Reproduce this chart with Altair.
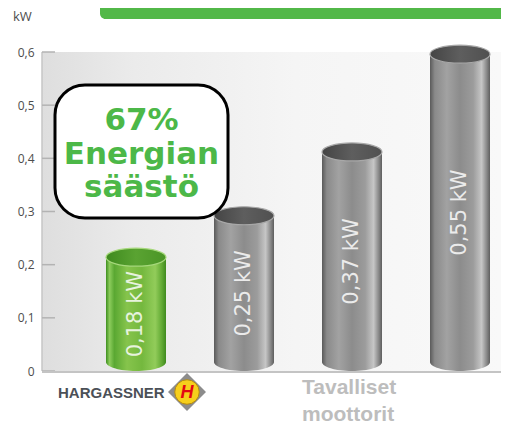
import altair as alt
import pandas as pd

# ---- data ----
categories = ["Hargassner", "Tavallinen A", "Tavallinen B", "Tavallinen C"]
kinds = ["green", "gray", "gray", "gray"]
heights = [0.214, 0.292, 0.412, 0.596]          # drawn cylinder heights (kW axis)
labels = ["0,18 kW", "0,25 kW", "0,37 kW", "0,55 kW"]
y_ticks = [0, 0.1, 0.2, 0.3, 0.4, 0.5, 0.6]
box_lines = ["67%", "Energian", "säästö"]
brand = ["HARGASSNER"]
other_lines = ["Tavalliset", "moottorit"]
unit = ["kW"]

df = pd.DataFrame({"cat": categories, "kind": kinds, "h": heights, "label": labels})

W, H = 459, 319
y_scale = alt.Scale(domain=[0, 0.6], nice=False, zero=True)
Y_AX = alt.Axis(values=y_ticks, domain=False, ticks=False, grid=False,
                labelPadding=8, labelFontSize=12, labelColor="#4d4d4d",
                labelFont="Open Sans",
                labelExpr="replace(format(datum.value, '.1~f'), '.', ',')")
x_enc = alt.X("cat:N", sort=categories,
              scale=alt.Scale(type="band", range=[40, 472], paddingInner=0, paddingOuter=0),
              axis=None)


def yq(field):
    return alt.Y(field, scale=y_scale, axis=Y_AX, title=None)


def lin(stops, x2=1, y2=0):
    return alt.LinearGradient(
        gradient="linear",
        stops=[alt.GradientStop(offset=o, color=c) for o, c in stops],
        x1=0, y1=0, x2=x2, y2=y2,
    )


green_body = lin([(0, "#3f8f1f"), (0.06, "#8ccc5c"), (0.14, "#5aa832"), (0.35, "#86c44c"),
                  (0.6, "#74b83e"), (0.82, "#92cc5a"), (0.93, "#62aa34"), (1, "#3f8a1e")])
gray_body = lin([(0, "#5a5a5a"), (0.08, "#8a8a8a"), (0.28, "#a2a2a2"), (0.5, "#8c8c8c"),
                 (0.72, "#9c9c9c"), (0.86, "#c6c6c6"), (0.95, "#858585"), (1, "#5e5e5e")])
green_top = lin([(0, "#3e8a1e"), (0.5, "#5aa332"), (1, "#4a9526")])
gray_top = lin([(0, "#444444"), (0.5, "#5e5e5e"), (1, "#505050")])
panel_grad = lin([(0, "#dedede"), (0.2, "#ebebeb"), (0.55, "#f5f5f5"), (1, "#f9f9f9")])

ELL = "M -1 0 A 1 0.3 0 1 0 1 0 A 1 0.3 0 1 0 -1 0 Z"
BW = 60

panel = alt.Chart(pd.DataFrame({"lo": [0], "hi": [0.6]})).mark_rect(fill=panel_grad).encode(
    x=alt.value(0), x2=alt.value(W), y=yq("hi:Q"), y2="lo:Q")

wall = alt.Chart(pd.DataFrame({"lo": [0], "hi": [0.6]})).mark_rule(
    color="#c6c6c6", strokeWidth=1.5).encode(x=alt.value(0), y=yq("hi:Q"), y2="lo:Q")

ticks = alt.Chart(pd.DataFrame({"t": y_ticks})).mark_rule(color="#b3b3b3", strokeWidth=1.5).encode(
    y=yq("t:Q"), x=alt.value(0), x2=alt.value(13))

floor = alt.Chart(pd.DataFrame({"z": [0]})).mark_rule(color="#c4c4c4", strokeWidth=2, yOffset=1).encode(
    y=yq("z:Q"), x=alt.value(0), x2=alt.value(W))

base = alt.Chart(df)


def cyl(kind, body, top, rim):
    b = base.transform_filter(alt.datum.kind == kind)
    bar = b.mark_bar(size=BW, fill=body, y2Offset=-9).encode(
        x=x_enc, y=yq("h:Q"), y2=alt.datum(0))
    bottom = b.mark_point(shape=ELL, size=BW * BW, filled=True, fill=body, strokeWidth=0,
                          opacity=1, yOffset=-9).encode(x=x_enc, y=alt.datum(0))
    topm = b.mark_point(shape=ELL, size=BW * BW, filled=True, fill=top, stroke=rim,
                        strokeWidth=1.2, opacity=1).encode(x=x_enc, y=yq("h:Q"))
    return [bottom, bar, topm]


layers = [panel, wall, ticks, floor]
layers += cyl("green", green_body, green_top, "#a6d87c")
layers += cyl("gray", gray_body, gray_top, "#a8a8a8")

value_text = base.transform_calculate(mid="datum.h / 2").mark_text(
    angle=270, font="DejaVu Sans", fontSize=21, color="white", opacity=0.82,
    align="center", baseline="middle").encode(
    x=x_enc, y=yq("mid:Q"), text="label:N")
layers.append(value_text)

one = pd.DataFrame({"a": [0]})
box = alt.Chart(one).mark_rect(fill="white", stroke="black", strokeWidth=3, cornerRadius=30).encode(
    x=alt.value(13), x2=alt.value(186), y=alt.value(33), y2=alt.value(166))
box_text = alt.Chart(one).mark_text(
    text=box_lines, font="DejaVu Sans", fontWeight="bold", fontSize=31, color="#4cb848",
    align="center", baseline="alphabetic", lineHeight=33.5).encode(
    x=alt.value(99.5), y=alt.value(78))
banner = alt.Chart(one).mark_rect(color="#52b848", cornerRadiusBottomLeft=9).encode(
    x=alt.value(58), x2=alt.value(W), y=alt.value(-44), y2=alt.value(-33))
kw = alt.Chart(one).mark_text(text=unit[0], font="Open Sans", fontSize=13, color="#4d4d4d",
                              align="left", baseline="middle").encode(
    x=alt.value(-29), y=alt.value(-35))
logo_text = alt.Chart(one).mark_text(
    text=brand[0], font="Liberation Sans", fontWeight="bold", fontSize=15,
    color="#4b5057", align="left", baseline="alphabetic").encode(
    x=alt.value(16), y=alt.value(346))
diamond = alt.Chart(one).mark_point(shape="diamond", size=1440, filled=True, color="#8c8c8c",
                                    opacity=1).encode(x=alt.value(145), y=alt.value(340))
circ = alt.Chart(one).mark_point(shape="circle", size=600, filled=True, fill="#f6cf1c",
                                 stroke="#b58a10", strokeWidth=1, opacity=1).encode(
    x=alt.value(145), y=alt.value(340))
hmark = alt.Chart(one).mark_text(text="H", font="Liberation Sans", fontWeight="bold",
                                 fontStyle="italic", fontSize=18, color="#e30613",
                                 align="center", baseline="middle").encode(
    x=alt.value(145), y=alt.value(341))
other = alt.Chart(one).mark_text(
    text=other_lines, font="Liberation Sans", fontWeight="bold", fontSize=21, color="#bdbdbd",
    align="left", baseline="alphabetic", lineHeight=27).encode(
    x=alt.value(260), y=alt.value(342))

layers += [box, box_text, banner, kw, logo_text, diamond, circ, hmark, other]

chart = alt.layer(*layers).properties(
    width=W, height=H,
    autosize=alt.AutoSizeParams(type="none"),
    padding={"left": 34, "top": 44, "right": 0, "bottom": 53},
).configure_view(stroke=None)

chart.save("out.html", embed_options={"renderer": "svg", "actions": False})
